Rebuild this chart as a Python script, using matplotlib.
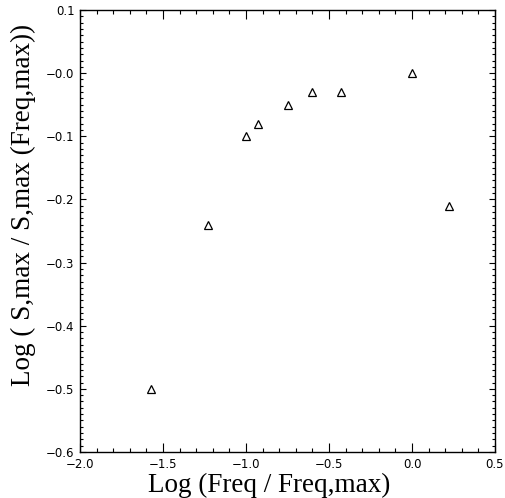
import matplotlib
matplotlib.use('Agg')
import matplotlib.pyplot as plt
from matplotlib.ticker import MultipleLocator, FixedLocator

# 数据
log_freq = [-1.57, -1.23, -1.00, -0.93, -0.75, -0.60, -0.43, 0.00, 0.22]
log_s = [-0.50, -0.24, -0.10, -0.08, -0.05, -0.03, -0.03, 0.00, -0.21]

x_ticks = [-2.0, -1.5, -1.0, -0.5, 0.0, 0.5]
x_labels = ['\u22122.0', '\u22121.5', '\u22121.0', '\u22120.5', '0.0', '0.5']
y_ticks = [-0.6, -0.5, -0.4, -0.3, -0.2, -0.1, 0.0, 0.1]
y_labels = ['\u22120.6', '\u22120.5', '\u22120.4', '\u22120.3', '\u22120.2', '\u22120.1', '\u22120.0', '0.1']

fig = plt.figure(figsize=(5.05, 4.98), dpi=100)
ax = fig.add_axes([80 / 505, 46 / 498, 415 / 505, 442 / 498])

ax.plot(log_freq, log_s, linestyle='none', marker='^', markersize=6,
        markerfacecolor='none', markeredgecolor='black', markeredgewidth=0.9)

ax.set_xlim(-2.0, 0.5)
ax.set_ylim(-0.6, 0.1)

ax.xaxis.set_major_locator(FixedLocator(x_ticks))
ax.set_xticklabels(x_labels, fontfamily='DejaVu Sans', fontsize=8.5)
ax.yaxis.set_major_locator(FixedLocator(y_ticks))
ax.set_yticklabels(y_labels, fontfamily='DejaVu Sans', fontsize=8.5)
ax.xaxis.set_minor_locator(MultipleLocator(0.1))
ax.yaxis.set_minor_locator(MultipleLocator(0.01))

ax.tick_params(axis='x', which='major', direction='in', top=True, length=6.5, width=0.8, pad=4)
ax.tick_params(axis='x', which='minor', direction='in', top=True, length=3, width=0.8)
ax.tick_params(axis='y', which='major', direction='in', right=True, length=4.3, width=0.8, pad=4)
ax.tick_params(axis='y', which='minor', direction='in', right=True, length=2, width=0.8)

for s in ax.spines.values():
    s.set_linewidth(1.0)

ax.set_xlabel('Log (Freq / Freq,max)', fontfamily='Liberation Serif', fontsize=19.5)
ax.xaxis.set_label_coords(0.455, -0.047)
ax.set_ylabel('Log ( S,max / S,max (Freq,max))', fontfamily='Liberation Serif', fontsize=19.5)
ax.yaxis.set_label_coords(-0.105, 0.56)

fig.savefig('out.png', dpi=100)
